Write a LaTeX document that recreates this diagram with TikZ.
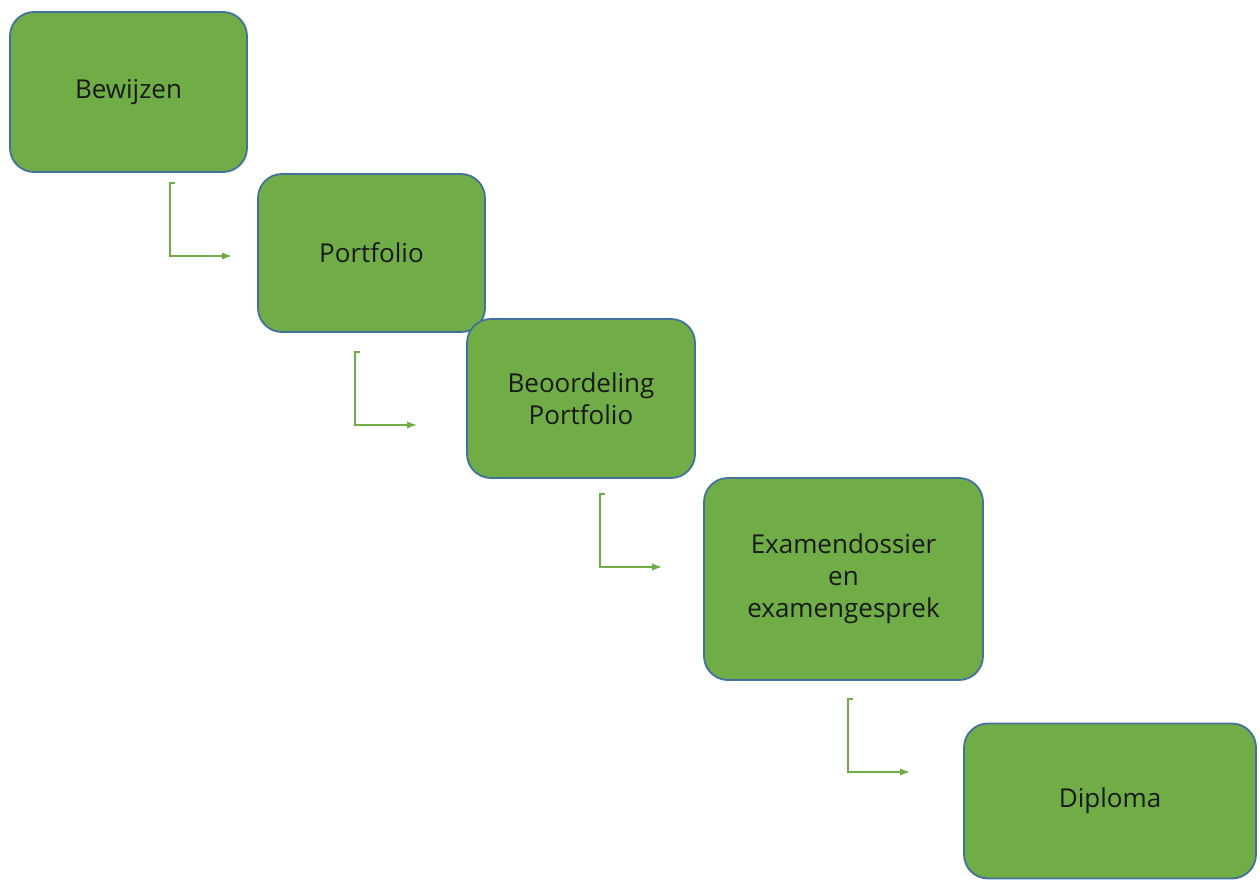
\documentclass[tikz,border=0pt]{standalone}
\usepackage{fontspec}
\setmainfont{Open Sans}
\usetikzlibrary{arrows.meta}

\definecolor{boxgreen}{HTML}{70AD47}
\definecolor{boxblue}{HTML}{41719C}
\definecolor{arrgreen}{HTML}{70AD47}

\begin{document}
\begin{tikzpicture}[x=1pt,y=-1pt,
  stap/.style={draw=boxblue, line width=1.8pt, fill=boxgreen, rounded corners=24pt,
    align=center, text=black!90, font=\fontsize{26}{32}\selectfont, inner sep=0pt},
  pijl/.style={draw=arrgreen, line width=1.6pt, -{Latex[length=10pt,width=7.5pt]}}]

\useasboundingbox (0,0) rectangle (1260,880);

\newcommand\DN{73}
\newcommand\RT{62}

%% boxes
\node[stap, minimum width=237pt, minimum height=160pt] (bew) at (128.5, 92) {Bewijzen};
\node[stap, minimum width=227pt, minimum height=158pt] (port) at (371.5, 253) {Portfolio};
\node[stap, minimum width=228pt, minimum height=159pt] (beo) at (581, 398.5) {Beoordeling\\Portfolio};
\node[stap, minimum width=279pt, minimum height=202pt] (exa) at (843.5, 579) {Examendossier\\en\\examengesprek};
\node[stap, minimum width=292pt, minimum height=155pt] (dip) at (1110, 801) {Diploma};

%% arrows
\coordinate (a1) at (170, 183);
\coordinate (a2) at (355, 352);
\coordinate (a3) at (600, 494);
\coordinate (a4) at (848, 699);

\foreach \a in {a1,a2,a3,a4}{
  \draw[pijl] ([xshift=5pt]\a) -- (\a) -- ++(0,\DN) -- ++(\RT,0);
}

\end{tikzpicture}
\end{document}
